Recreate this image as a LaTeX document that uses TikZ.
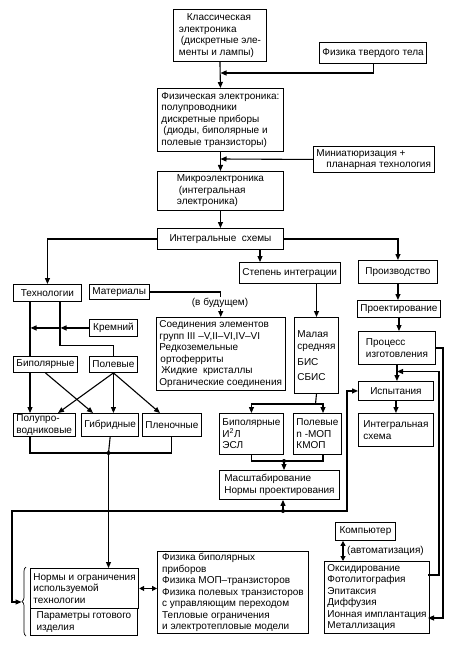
\documentclass[tikz,border=0pt]{standalone}
\usepackage{fontspec}
\setmainfont{Liberation Sans}
\usepackage{tikz}
\usetikzlibrary{arrows.meta}
\usetikzlibrary{decorations.pathreplacing}
\newcommand{\boxFont}{\fontsize{10}{11.5}\selectfont}

\begin{document}
\begin{tikzpicture}[x=1pt, y=-1pt]

          \tikzstyle{boxNode} = [draw, line width=0.9pt, anchor=north west, inner xsep=3pt, inner ysep=1pt, align=left, font=\boxFont];
          \tikzstyle{labelNode} = [inner sep=1pt, font=\boxFont];
          \tikzset{boxSize/.style 2 args={minimum width=#1pt, minimum height=#2pt}}

          \tikzstyle{lineEdge} = [line width=1.1pt];
          \tikzstyle{arrowEdge} = [lineEdge, -{Triangle[length=6pt, width=5pt]}];
          \tikzstyle{twoWayEdge} = [lineEdge, {Triangle[length=5pt, width=5pt]}-{Triangle[length=5pt, width=5pt]}];
          \tikzstyle{toLine} = [shorten >=0.5pt];

          \useasboundingbox (0,0) rectangle (455,647);

          % upper chain
          \node[boxNode, boxSize={93}{52}] (klass) at (173,9) {\hspace*{8pt}Классическая\\ электроника\\ \hspace*{2pt}(дискретные эле-\\ менты и лампы)};
          \node[boxNode, boxSize={107}{21}] (tverd) at (319,42) {Физика твердого тела};
          \node[boxNode, boxSize={126}{63}] (fizel) at (157,88) {Физическая электроника:\\ полупроводники\\ дискретные приборы\\ \hspace*{2pt}(диоды, биполярные и\\ полевые транзисторы)};
          \node[boxNode, boxSize={117}{26}] (miniat) at (313,146) {Миниатюризация +\\ \hspace*{10pt}планарная технология};
          \node[boxNode, boxSize={126}{39}] (micro) at (157,171) {Микроэлектроника\\ \hspace*{2pt}(интегральная\\ электроника)};
          \node[boxNode, boxSize={126}{21}] (ims) at (157,228) {Интегральные\ \ схемы};

          % second level
          \node[boxNode, boxSize={68}{17}] (tech) at (13,284) {Технологии};
          \node[boxNode, boxSize={55}{15}] (mater) at (89,284) {Материалы};
          \node[boxNode, boxSize={99}{21}] (stepen) at (239,262) {Степень интеграции};
          \node[boxNode, boxSize={79}{23}] (proizv) at (358,260) {Производство};

          \node[boxNode, boxSize={48}{17}] (kremn) at (89,319) {Кремний};
          \node[boxNode, boxSize={128}{73}] (soed) at (156,317) {Соединения элементов\\ групп III –V,II–VI,IV–VI\\ Редкоземельные\\ \hspace*{1pt}ортоферриты\\ \hspace*{2pt}Жидкие\ \ кристаллы\\ Органические соединения};
          \node[boxNode, boxSize={43}{76}] (malaya) at (294,317) {Малая\\[1pt] средняя\\[4pt] БИС\\[4pt] СБИС};

          \node[boxNode, boxSize={80}{17}] (proekt) at (357,300) {Проектирование};
          \node[boxNode, boxSize={77}{33}] (process) at (358,331) {Процесс\\ изготовления};
          \node[boxNode, boxSize={75}{19}] (ispyt) at (358,381) {Испытания};
          \node[boxNode, boxSize={75}{33}] (integ) at (358,413) {Интегральная\\ схема};

          \node[boxNode, boxSize={62}{16}] (bipol) at (13,356) {Биполярные};
          \node[boxNode, boxSize={44}{16}] (polev) at (89,356) {Полевые};
          \node[boxNode, boxSize={61}{23}] (poluprov) at (13,413) {Полупро-\\ водниковые};
          \node[boxNode, boxSize={55}{23}] (gibrid) at (81,413) {Гибридные};
          \node[boxNode, boxSize={53}{23}] (plenoch) at (142,413) {Пленочные};

          \node[boxNode, boxSize={63}{41}] (biplr) at (219,413) {Биполярные\\ И\textsuperscript{2}Л\\ ЭСЛ};
          \node[boxNode, boxSize={46}{41}] (polmop) at (293,413) {Полевые\\ n -МОП\\ КМОП};
          \node[boxNode, boxSize={120}{29}] (masht) at (219,470) {Масштабирование\\ Нормы проектирования};

          % bottom part
          \node[boxNode, boxSize={60}{18}] (komp) at (335,522) {Компьютер};
          \node[boxNode, boxSize={104}{72}] (oksid) at (324,561) {Оксидирование\\ Фотолитография\\ Эпитаксия\\ Диффузия\\ Ионная имплантация\\ Металлизация};
          \node[boxNode, boxSize={107}{40}] (normy1) at (30,568) {Нормы и ограничения\\ используемой\\ технологии};
          \node[boxNode, boxSize={107}{27}] (normy2) at (30,608) {Параметры готового\\ изделия};
          \node[boxNode, boxSize={151}{82}] (fizika) at (157,551) {Физика биполярных\\ приборов\\ Физика МОП–транзисторов\\ Физика полевых транзисторов\\ с управляющим переходом\\ Тепловые ограничения\\ и электротепловые модели};

          % helper points
          \coordinate (fizIn) at (220,73);
          \coordinate (microIn) at (220,159);
          \coordinate (stepIn) at (260,262);
          \coordinate (colA) at (30,0);
          \coordinate (colB) at (60,0);
          \coordinate (gibIn) at (93,413);
          \coordinate (poluIn) at (58,413);
          \coordinate (plenIn) at (160,413);
          \coordinate (jGib) at (108.5,453);
          \coordinate (malSplit) at (315.5,404);
          \coordinate (polIn) at (323,413);
          \coordinate (polOut) at (323,454);
          \coordinate (jMasht) at (284,461);
          \coordinate (jLoop) at (283,511);
          \coordinate (loopLeft) at (12,602);
          \coordinate (braceTip) at (21.5,602);
          \coordinate (loopRight) at (347,0);
          \coordinate (compCol) at (343,0);
          \coordinate (oksIn) at (428,618);
          \coordinate (oksOut) at (428,575);
          \coordinate (outerCol) at (443,0);
          \coordinate (innerCol) at (439,0);
          \coordinate (procIn) at (396.5,371.5);

          % upper chain
          \draw[arrowEdge] (klass.south) -- (fizel.north);
          \draw[arrowEdge, toLine] (tverd.south) |- (fizIn);
          \draw[arrowEdge] (fizel.south) -- (micro.north);
          \draw[arrowEdge, toLine] (miniat.west) -- (microIn);
          \draw[arrowEdge] (micro.south) -- (ims.north);
          \draw[arrowEdge] (ims.west) -| (tech.north);
          \draw[arrowEdge] (ims.east) -| (proizv.north);
          \draw[arrowEdge] (ims.south -| stepIn) -- (stepIn);
          \draw[arrowEdge] (stepen.south -| malaya.north) -- (malaya.north);
          \draw[arrowEdge] (mater.east) -| (soed.north);
          \node[labelNode, fill=white] (futLabel) at (220,303) {(в будущем)};

          % production column
          \draw[arrowEdge] (proizv.south) -- (proizv.south |- proekt.north);
          \draw[arrowEdge] (proekt.south) -- (proekt.south |- process.north);
          \draw[arrowEdge] (process.south) -- (process.south |- ispyt.north);
          \draw[arrowEdge] (ispyt.south) -- (ispyt.south |- integ.north);

          % technologies
          \draw[lineEdge] (tech.south -| colA) -- (bipol.north -| colA);
          \draw[lineEdge] (tech.south -| colB) -- ++(0,44) -| (polev.north);
          \draw[arrowEdge, toLine] (kremn.west) -- (kremn.west -| colB);
          \draw[arrowEdge, toLine] (kremn.west -| colB) -- (kremn.west -| colA);
          \draw[arrowEdge] (bipol.south -| colA) -- (poluprov.north -| colA);
          \draw[arrowEdge] (bipol.south) -- (gibIn);
          \draw[arrowEdge] (polev.south) -- (poluIn);
          \draw[arrowEdge] (polev.south) -- (polev.south |- gibrid.north);
          \draw[arrowEdge] (polev.south) -- (plenIn);
          \draw[lineEdge] (poluprov.south -| colA) |- (jGib) -| (plenoch.south);
          \draw[lineEdge] (gibrid.south) -- (jGib);
          \draw[arrowEdge] (jGib) -- (jGib |- normy1.north);
          \fill (jGib) circle (2pt);

          % integration degree
          \draw[lineEdge] (malaya.south) -- (malSplit);
          \draw[arrowEdge] (malSplit) -| (biplr.north);
          \draw[arrowEdge] (malSplit) -| (polIn);
          \draw[lineEdge] (biplr.south) |- (jMasht) -| (polOut);
          \draw[arrowEdge] (jMasht) -- (jMasht |- masht.north);
          \fill (jMasht) circle (2pt);

          % feedback loop
          \draw[arrowEdge] (jLoop) -- (jLoop |- masht.south);
          \draw[arrowEdge] (jLoop) -| (loopLeft) -- (braceTip);
          \draw[arrowEdge] (jLoop) -| (ispyt.west -| loopRight) -- (ispyt.west);
          \fill (jLoop) circle (2pt);
          \draw[line width=0.7pt, decorate, decoration={brace, amplitude=4pt}] (26,636) -- (26,567);

          \draw[twoWayEdge] (normy1.east) -- (normy1.east -| fizika.west);
          \draw[twoWayEdge] (komp.south -| compCol) -- (oksid.north -| compCol);
          \node[labelNode, anchor=west] (autoLabel) at (346,551) {(автоматизация)};

          \draw[arrowEdge] (process.east) -| (oksIn -| outerCol) -- (oksIn);
          \draw[arrowEdge, toLine] (oksOut) -| (procIn -| innerCol) -- (procIn);
        \end{tikzpicture}
\end{document}
